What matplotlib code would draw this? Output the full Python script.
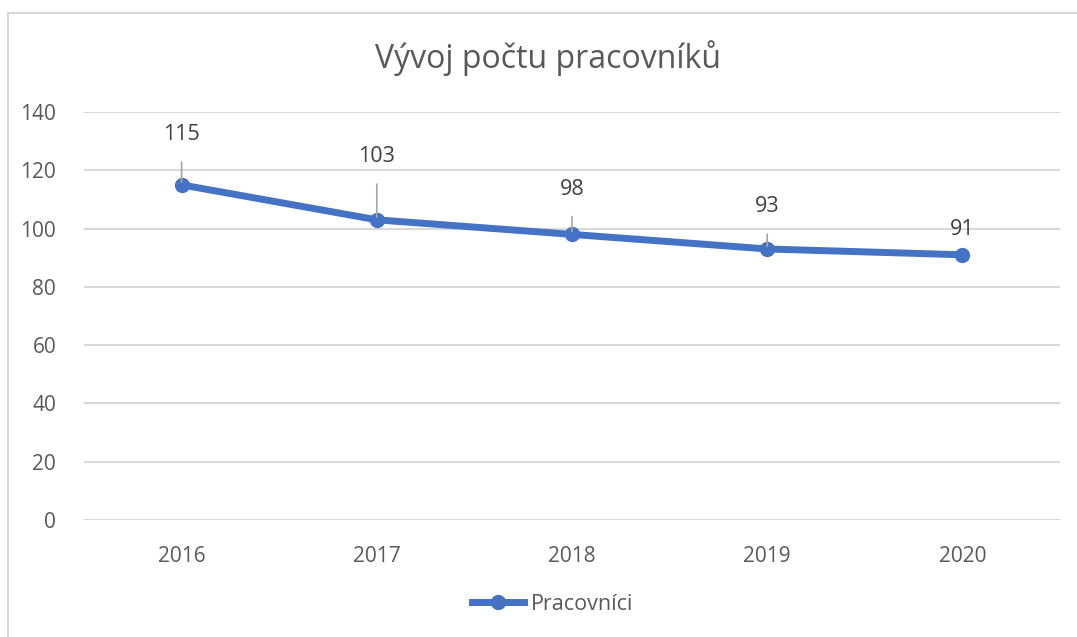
import matplotlib.pyplot as plt
from matplotlib.lines import Line2D

plt.rcParams['font.family'] = ['Open Sans', 'DejaVu Sans']

years = ['2016', '2017', '2018', '2019', '2020']
workers = [115, 103, 98, 93, 91]
# pixel offsets of the data labels above their points
label_dy = [50, 63, 45, 42, 25]

blue = '#4472C4'
grey_text = '#595959'
grid = '#D9D9D9'

fig = plt.figure(figsize=(10.77, 6.37), dpi=100)
ax = fig.add_axes([84 / 1077, 117 / 637, 976 / 1077, 408 / 637])

x = list(range(len(years)))
ax.plot(x, workers, color=blue, linewidth=5, marker='o', markersize=10,
        solid_capstyle='round', zorder=3, label='Pracovníci')

for xi, v, dy in zip(x, workers, label_dy):
    props = None
    if dy > 30:
        props = dict(arrowstyle='-', color='#A6A6A6', lw=1.2, shrinkA=10, shrinkB=2)
    ax.annotate(str(v), (xi, v), xytext=(0, dy), textcoords='offset pixels',
                ha='center', va='center', fontsize=15.5, color='#404040',
                arrowprops=props, zorder=4)

ax.set_xlim(-0.5, len(years) - 0.5)
ax.set_ylim(0, 140)
ax.set_yticks(range(0, 141, 20))
ax.set_xticks(x)
ax.set_xticklabels(years)
ax.tick_params(length=0, labelsize=15, labelcolor=grey_text)
ax.tick_params(axis='x', pad=19)
ax.tick_params(axis='y', pad=20)
ax.grid(axis='y', color=grid, linewidth=1.5)
ax.set_axisbelow(True)
for s in ax.spines.values():
    s.set_visible(False)

fig.text(0.509, 1 - 58 / 637, 'Vývoj počtu pracovníků', ha='center', va='center',
         fontsize=23, color=grey_text)

fig.legend(handles=[Line2D([], [], color=blue, lw=5, marker='o', markersize=10)],
           labels=['Pracovníci'], loc='center', bbox_to_anchor=(0.513, 1 - 604 / 637),
           frameon=False, fontsize=15.5, labelcolor=grey_text, handlelength=2.4,
           handletextpad=0.3)

# chart border (left and top visible)
fig.add_artist(Line2D([8 / 1077, 8 / 1077], [0, 1 - 13 / 637], color=grid, lw=1.5))
fig.add_artist(Line2D([8 / 1077, 1], [1 - 13 / 637, 1 - 13 / 637], color=grid, lw=1.5))

fig.savefig('out.png', dpi=100)
